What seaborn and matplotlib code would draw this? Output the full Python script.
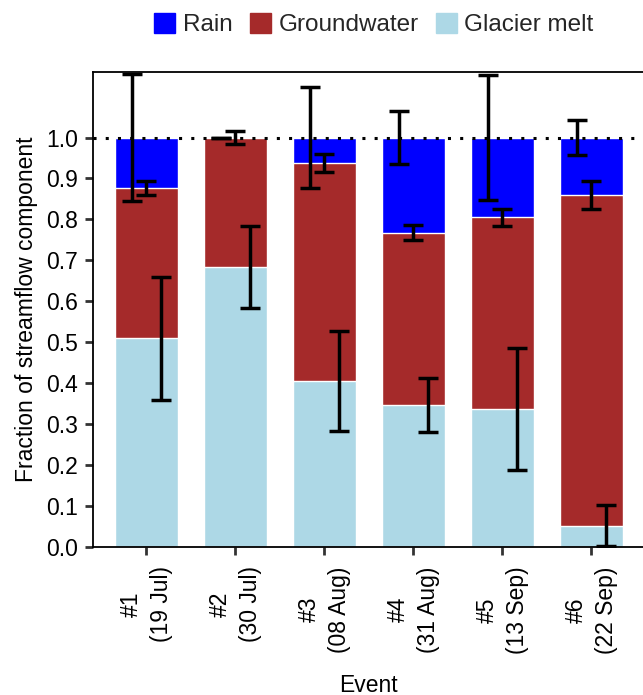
import matplotlib
matplotlib.use("Agg")
import matplotlib.pyplot as plt
import matplotlib.patches as mpatches
import numpy as np
import pandas as pd
import seaborn as sns

# Event labels (x axis)
events = ["#1\n(19 Jul)", "#2\n(30 Jul)", "#3\n(08 Aug)",
          "#4\n(31 Aug)", "#5\n(13 Sep)", "#6\n(22 Sep)"]

# Fraction of streamflow from each component
glacier = [0.510, 0.683, 0.406, 0.347, 0.337, 0.052]
groundwater = [0.367, 0.317, 0.532, 0.421, 0.468, 0.808]
rain = [0.123, 0.000, 0.062, 0.232, 0.195, 0.140]

# Uncertainty (half-width) for each component
glacier_err = [0.150, 0.100, 0.122, 0.065, 0.149, 0.050]
groundwater_err = [0.017, 0.016, 0.022, 0.018, 0.021, 0.034]
rain_err = [0.155, 0.000, 0.123, 0.065, 0.153, 0.043]

yticks = [0.0, 0.1, 0.2, 0.3, 0.4, 0.5, 0.6, 0.7, 0.8, 0.9, 1.0]

colors = {"Rain": "#0000FF", "Groundwater": "#A52A2A", "Glacier melt": "#ADD8E6"}

sns.set_theme(style="white")
plt.rcParams["font.family"] = ["Liberation Sans", "DejaVu Sans"]

FS = 16.5

df = pd.DataFrame({"event": events, "glacier": glacier,
                   "groundwater": groundwater, "rain": rain})
df["gw_top"] = df["glacier"] + df["groundwater"]
df["total"] = df["gw_top"] + df["rain"]

fig = plt.figure(figsize=(6.43, 6.95), dpi=100)
ax = fig.add_axes([93 / 643, 1 - 547 / 695, 550 / 643, (547 - 72) / 695])

# Stacked bars: draw cumulative heights from the top layer down
sns.barplot(data=df, x="event", y="total", color=colors["Rain"],
            saturation=1, width=0.7, ax=ax, errorbar=None)
sns.barplot(data=df, x="event", y="gw_top", color=colors["Groundwater"],
            saturation=1, width=0.7, ax=ax, errorbar=None)
sns.barplot(data=df, x="event", y="glacier", color=colors["Glacier melt"],
            saturation=1, width=0.7, ax=ax, errorbar=None)

xpos = np.arange(len(events))
eb_kw = dict(fmt="none", ecolor="black", elinewidth=2.5, capsize=7.5,
             capthick=2.5, zorder=5)
ax.errorbar(xpos - 0.165, df["total"], yerr=rain_err, **eb_kw)
ax.errorbar(xpos, df["gw_top"], yerr=groundwater_err, **eb_kw)
ax.errorbar(xpos + 0.165, df["glacier"], yerr=glacier_err, **eb_kw)

# Reference line at a fraction of 1
ax.axhline(1.0, color="black", linestyle=(0, (1, 3)), linewidth=2.2, zorder=4)

ax.set_xlim(-0.6, 5.58)
ax.set_ylim(0, 1.16)
ax.set_yticks(yticks)
ax.set_yticklabels([f"{v:.1f}" for v in yticks])
ax.tick_params(axis="x", labelrotation=90)
ax.tick_params(axis="both", direction="out", length=6, width=2,
               color="#333333", labelsize=FS, labelcolor="black",
               left=True, bottom=True)
ax.tick_params(axis="x", pad=8)
ax.tick_params(axis="y", pad=5)
for lab in ax.get_xticklabels():
    lab.set_linespacing(1.35)

for side in ["top", "left", "bottom"]:
    ax.spines[side].set_visible(True)
    ax.spines[side].set_color("black")
    ax.spines[side].set_linewidth(1.3)
ax.spines["right"].set_visible(False)

ax.set_xlabel("Event", fontsize=FS, color="black", labelpad=14)
ax.set_ylabel("Fraction of streamflow component", fontsize=FS, color="black",
              labelpad=6)

handles = [mpatches.Patch(color=colors[k], label=k) for k in colors]
fig.legend(handles=handles, loc="upper center", bbox_to_anchor=(374 / 643, 1.0),
           ncol=3, frameon=False, fontsize=17.5, handlelength=0.85,
           handleheight=0.85, handletextpad=0.32, columnspacing=0.72,
           borderaxespad=0.15)

fig.savefig("out.png", dpi=100)
